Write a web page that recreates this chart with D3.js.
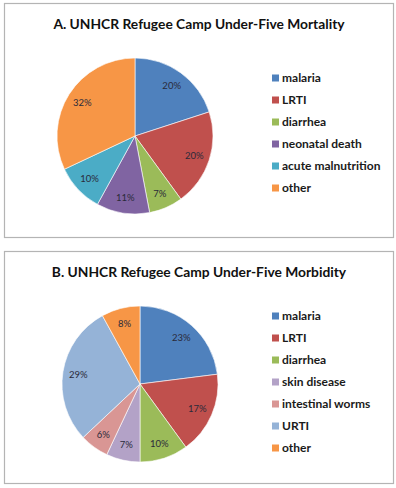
<!DOCTYPE html>
<html>
<head>
<meta charset="utf-8">
<script src="https://cdn.jsdelivr.net/npm/d3@7"></script>
<style>
  body { margin: 0; background: #fff; }
  svg { display: block; font-family: Lato, "Open Sans", sans-serif; }
</style>
</head>
<body>
<script>
// chart A - mortality
var mortalityTitle = "A. UNHCR Refugee Camp Under-Five Mortality";
var mortalityCauses = ["malaria", "LRTI", "diarrhea", "neonatal death", "acute malnutrition", "other"];
var mortalityValues = [20, 20, 7, 11, 10, 32];
var mortalityColors = ["#4F81BD", "#C0504D", "#9BBB59", "#8064A2", "#4BACC6", "#F79646"];

// chart B - morbidity
var morbidityTitle = "B. UNHCR Refugee Camp Under-Five Morbidity";
var morbidityCauses = ["malaria", "LRTI", "diarrhea", "skin disease", "intestinal worms", "URTI", "other"];
var morbidityValues = [23, 17, 10, 7, 6, 29, 8];
var morbidityColors = ["#4F81BD", "#C0504D", "#9BBB59", "#B3A2C7", "#D99694", "#95B3D7", "#F79646"];

var w = 396, h = 488;

var svg = d3.select("body")
    .append("svg")
    .attr("width", w)
    .attr("height", h);

function drawPanel(top, boxH, cx, legendTop, title, causes, values, colors) {
    var g = svg.append("g")
        .attr("transform", "translate(0," + top + ")");

    //frame
    g.append("rect")
        .attr("x", 4.5)
        .attr("y", 0.5)
        .attr("width", 389)
        .attr("height", boxH)
        .attr("fill", "#fff")
        .attr("stroke", "#b4b4b4")
        .attr("stroke-width", 1.2);

    g.append("text")
        .attr("x", 199)
        .attr("y", 26)
        .attr("text-anchor", "middle")
        .style("font-size", "13.8px")
        .style("font-weight", "bold")
        .style("fill", "#111")
        .text(title);

    var r = 78, cy = 133;
    var pie = d3.pie().sort(null);
    var arc = d3.arc().innerRadius(0).outerRadius(r);
    var labelArc = d3.arc().innerRadius(r * 0.8).outerRadius(r * 0.8);

    var pg = g.append("g")
        .attr("transform", "translate(" + cx + "," + cy + ")");

    var slices = pie(values);

    pg.selectAll("path")
        .data(slices)
        .enter()
        .append("path")
        .attr("d", arc)
        .attr("fill", function (d, i) { return colors[i]; })
        .attr("stroke", "#fff")
        .attr("stroke-width", 0.6);

    pg.selectAll("text")
        .data(slices)
        .enter()
        .append("text")
        .attr("transform", function (d) { return "translate(" + labelArc.centroid(d) + ")"; })
        .attr("text-anchor", "middle")
        .attr("dy", "0.35em")
        .style("font-size", "9.5px")
        .style("fill", "#2a2a3a")
        .text(function (d) { return d.value + "%"; });

    //legend
    var y = d3.scalePoint()
        .domain(causes)
        .range([0, (causes.length - 1) * 22]);

    var lg = g.append("g")
        .attr("transform", "translate(272," + legendTop + ")");

    var item = lg.selectAll("g")
        .data(causes)
        .enter()
        .append("g")
        .attr("transform", function (d) { return "translate(0," + y(d) + ")"; });

    item.append("rect")
        .attr("x", 0)
        .attr("y", -3.5)
        .attr("width", 7)
        .attr("height", 7)
        .attr("fill", function (d, i) { return colors[i]; });

    item.append("text")
        .attr("x", 10)
        .attr("dy", "0.36em")
        .style("font-size", "12px")
        .style("font-weight", "bold")
        .style("fill", "#1a1a1a")
        .text(function (d) { return d; });
}

drawPanel(3, 234, 135, 75, mortalityTitle, mortalityCauses, mortalityValues, mortalityColors);
drawPanel(251, 232, 140, 65, morbidityTitle, morbidityCauses, morbidityValues, morbidityColors);
</script>
</body>
</html>
